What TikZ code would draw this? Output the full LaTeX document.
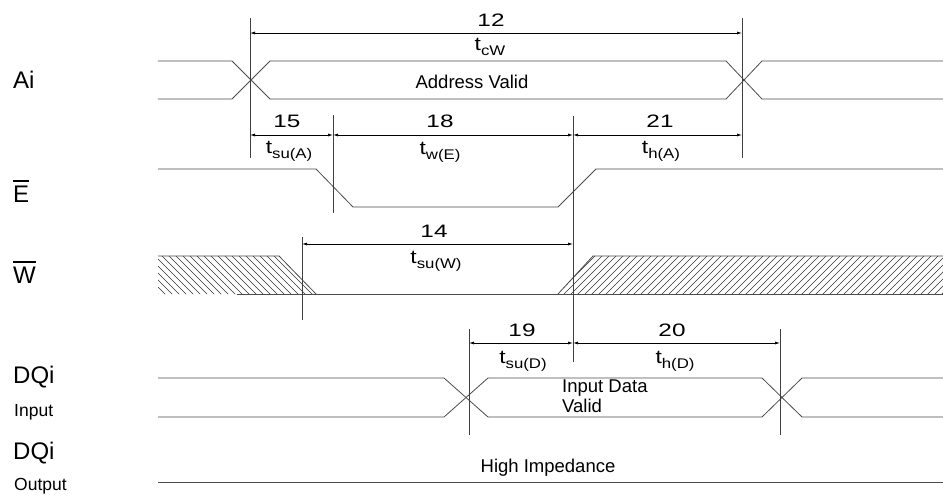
\documentclass[tikz,border=0pt]{standalone}
\usepackage{fontspec}
\usepackage{graphicx}
\setmainfont{Liberation Sans}
\usetikzlibrary{arrows.meta}
\newcommand\tsub[1]{\scalebox{1.2}[1]{t\raisebox{-5pt}{\fontsize{14}{14}\selectfont #1}}}
\newcommand\wnum[1]{\scalebox{1.35}[1]{#1}}
\newcommand\ovlbar[1]{\leavevmode\vbox{\hrule height 2.5pt \kern 3.5pt \hbox{#1}}}
\begin{document}
\begin{tikzpicture}[x=1pt,y=-1pt,
  sig/.style={draw=black!70,line width=0.8pt},
  ext/.style={draw=black!75,line width=0.8pt},
  hatch/.style={draw=black!80,line width=0.6pt},
  dim/.style={draw=black,line width=0.7pt,{Latex[length=5pt,width=3pt]}-{Latex[length=5pt,width=3pt]}},
  lbl/.style={anchor=west,inner sep=0pt,font=\fontsize{24}{26}\selectfont},
  sublbl/.style={anchor=west,inner sep=0pt,font=\fontsize{17.5}{19}\selectfont},
  num/.style={inner sep=0pt,font=\fontsize{18}{20}\selectfont},
  tl/.style={inner sep=0pt,font=\fontsize{19}{21}\selectfont},
  txt/.style={inner sep=0pt,font=\fontsize{18.5}{20}\selectfont}]
\useasboundingbox[fill=white] (0,0) rectangle (943,498);

% ---- left labels
\node[lbl] (lAi) at (13,80) {Ai};
\node[lbl] (lE) at (13,191) {\ovlbar{E}};
\node[lbl] (lW) at (13,272) {\ovlbar{W}};
\node[lbl] (lDQ1) at (13,377) {DQi};
\node[sublbl] (lIn) at (14,412) {Input};
\node[lbl] (lDQ2) at (13,453) {DQi};
\node[sublbl] (lOut) at (14,486) {Output};

% ---- Ai bus
\draw[sig] (158,61) -- (232,61) -- (270,99) -- (726,99) -- (762,61) -- (943,61);
\draw[sig] (158,99) -- (232,99) -- (270,61) -- (726,61) -- (762,99) -- (943,99);
\node[txt] (addr) at (472,82) {Address Valid};

% ---- E signal
\draw[sig] (158,169) -- (316,169) -- (353,207) -- (558,207) -- (596,169) -- (943,169);

% ---- W signal (hatched)
\begin{scope}
  \clip (158,256) -- (279,256) -- (316,294) -- (158,294) -- cycle;
  \foreach \i in {100,107,...,330} \draw[hatch] (\i,250) -- (\i+50,300);
\end{scope}
\begin{scope}
  \clip (558,294) -- (593,256) -- (943,256) -- (943,294) -- cycle;
  \foreach \i in {530,537,...,950} \draw[hatch] (\i,300) -- (\i+50,250);
\end{scope}
\draw[sig] (158,256) -- (279,256) -- (316,294);
\draw[sig] (237,294) -- (943,294);
\draw[sig] (558,294) -- (593,256) -- (943,256);

% ---- DQi input bus
\draw[sig] (158,378) -- (444,378) -- (488,417) -- (762,417) -- (802,378) -- (943,378);
\draw[sig] (158,417) -- (444,417) -- (488,378) -- (762,378) -- (802,417) -- (943,417);
\node[txt,anchor=west] (idv1) at (562,388) {Input Data};
\node[txt,anchor=west] (idv2) at (562,406) {Valid};

% ---- DQi output
\draw[sig] (158,482) -- (943,482);
\node[txt] (hiz) at (548,468) {High Impedance};

% ---- extension lines
\draw[ext] (250,18) -- (250,158);
\draw[ext] (742,18) -- (742,158);
\draw[ext] (333,115) -- (333,213);
\draw[ext] (573,116) -- (573,362);
\draw[ext] (302,237) -- (302,320);
\draw[ext] (469,329) -- (469,435);
\draw[ext] (780,329) -- (780,435);

% ---- dimension coordinates
\coordinate (d12a) at (250,33);  \coordinate (d12b) at (742,33);
\coordinate (d15a) at (250,135); \coordinate (d15b) at (333,135);
\coordinate (d18a) at (333,135); \coordinate (d18b) at (573,135);
\coordinate (d21a) at (573,135); \coordinate (d21b) at (742,135);
\coordinate (d14a) at (302,244); \coordinate (d14b) at (573,244);
\coordinate (d19a) at (469,343); \coordinate (d19b) at (573,343);
\coordinate (d20a) at (573,343); \coordinate (d20b) at (780,343);

\draw[dim] (d12a) -- (d12b);
\draw[dim] (d15a) -- (d15b);
\draw[dim] (d18a) -- (d18b);
\draw[dim] (d21a) -- (d21b);
\draw[dim] (d14a) -- (d14b);
\draw[dim] (d19a) -- (d19b);
\draw[dim] (d20a) -- (d20b);

% ---- dimension labels
\node[num] (n12) at (491,20) {\wnum{12}};
\node[tl]  (t12) at (490,47) {\tsub{cW}};
\node[num] (n15) at (287,121) {\wnum{15}};
\node[tl]  (t15) at (289,151) {\tsub{su(A)}};
\node[num] (n18) at (440,121) {\wnum{18}};
\node[tl]  (t18) at (440,152) {\tsub{w(E)}};
\node[num] (n21) at (660,121) {\wnum{21}};
\node[tl]  (t21) at (661,151) {\tsub{h(A)}};
\node[num] (n14) at (434,231) {\wnum{14}};
\node[tl]  (t14) at (436,261) {\tsub{su(W)}};
\node[num] (n19) at (522,330) {\wnum{19}};
\node[tl]  (t19) at (523,361) {\tsub{su(D)}};
\node[num] (n20) at (672,330) {\wnum{20}};
\node[tl]  (t20) at (675,361) {\tsub{h(D)}};
\end{tikzpicture}
\end{document}
